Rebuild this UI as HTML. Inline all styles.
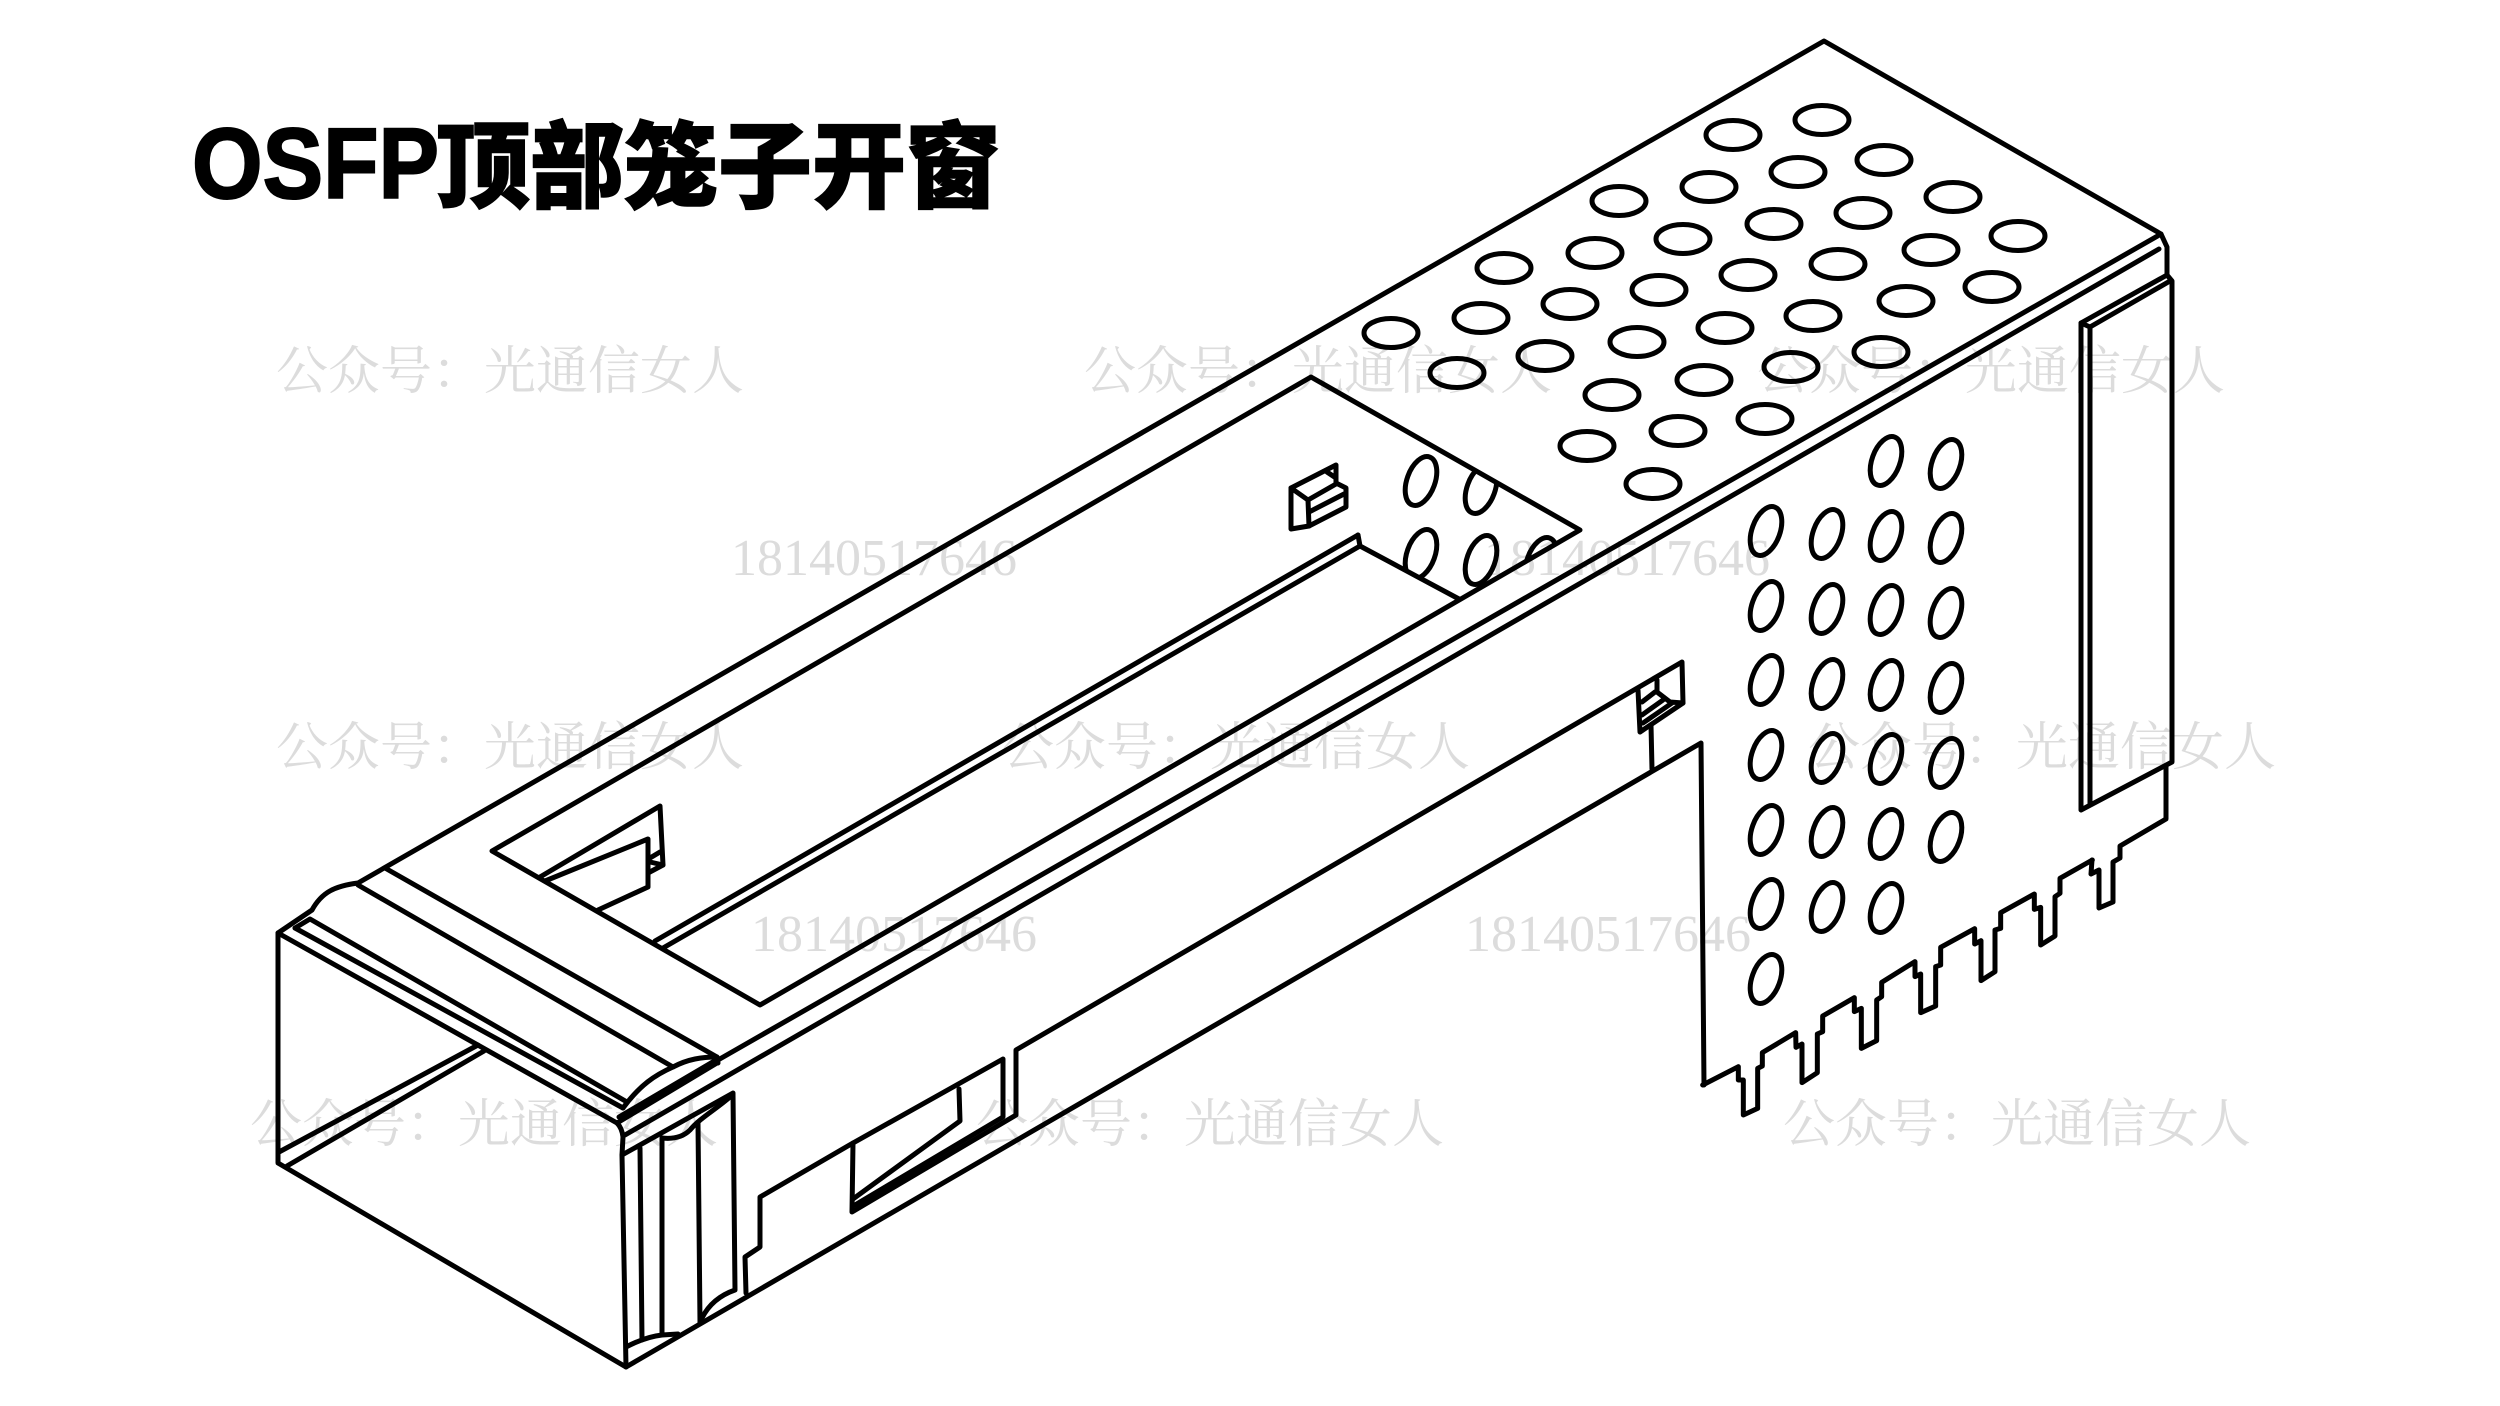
<!DOCTYPE html>
<html lang="zh">
<head>
<meta charset="utf-8">
<title>OSFP顶部笼子开窗</title>
<style>
html,body{margin:0;padding:0;background:#fff;width:2500px;height:1406px;overflow:hidden}
svg{display:block}
.wm{font-family:"Liberation Serif","Noto Serif CJK SC",serif;font-size:52px;fill:#dcdcdc}
.n{font-family:"Liberation Serif",serif;font-size:52px;fill:#dcdcdc}
.l{fill:none;stroke:#000;stroke-width:5;stroke-linejoin:round;stroke-linecap:round}
</style>
</head>
<body>
<svg width="2500" height="1406" viewBox="0 0 2500 1406" xmlns="http://www.w3.org/2000/svg">
<defs>
<clipPath id="op"><polygon points="1311,377 1580,530 1459,599 1360,545 1300,500"/></clipPath>
</defs>

<!-- watermarks -->
<text class="wm" x="276" y="389">公众号：光通信女人</text>
<text class="wm" x="1084" y="389">公众号：光通信女人</text>
<text class="wm" x="1757" y="389">公众号：光通信女人</text>
<text class="wm" x="276" y="765">公众号：光通信女人</text>
<text class="wm" x="1002" y="765">公众号：光通信女人</text>
<text class="wm" x="1808" y="765">公众号：光通信女人</text>
<text class="wm" x="250" y="1142">公众号：光通信女人</text>
<text class="wm" x="976" y="1142">公众号：光通信女人</text>
<text class="wm" x="1783" y="1142">公众号：光通信女人</text>
<text class="n" x="731" y="575">18140517646</text>
<text class="n" x="1484" y="575">18140517646</text>
<text class="n" x="751" y="951">18140517646</text>
<text class="n" x="1465" y="951">18140517646</text>

<!-- title -->
<text x="192" y="198" font-family="Liberation Sans, sans-serif" font-weight="700" font-size="100" textLength="247" lengthAdjust="spacingAndGlyphs" stroke="#000" stroke-width="2" fill="#000">OSFP</text>
<text x="436" y="200" font-family="Liberation Sans, Noto Sans CJK SC, sans-serif" font-weight="900" font-size="94" stroke="#000" stroke-width="1.5" fill="#000">顶部笼子开窗</text>

<g class="l">
<!-- front face -->
<path d="M278,933 L617,1123 Q622,1128 623,1137 L622,1155 L626,1367 L278,1163 Z"/>
<path d="M626,1367 L1701,743 L1704,1085"/>
<!-- interior seen through front -->
<path d="M279,1152 L478,1045"/>
<path d="M287,1166 L484,1051"/>
<!-- lip and top edges -->
<path d="M278,933 L312,910 C322,892 335,886 358,883 L1824,41 L2161,234 L2167,247 L2167,275"/>
<path d="M295,928 L623,1108"/>
<path d="M295,928 L310,919 L627,1102"/>
<path d="M358,885 L673,1067"/>
<path d="M385,868 L717,1057 L718,1063"/>
<path d="M623,1108 C640,1085 655,1075 673,1067 C688,1059 702,1057 717,1057"/>
<path d="M617,1123 L717,1063"/>
<path d="M619,1117 L716,1060"/>
<path d="M718,1060 L2161,234"/>
<path d="M625,1135 L2159,249"/>

<!-- front side flange -->
<path d="M622,1155 L733,1093 L735,1290 Q712,1298 702,1318"/>
<path d="M640,1148 L642,1340"/>
<path d="M662,1138 L662,1335"/>
<path d="M698,1123 L700,1323"/>
<path d="M662,1138 Q680,1140 690,1130 C700,1118 715,1110 730,1097"/>
<path d="M626,1347 Q645,1337 662,1335 L678,1334"/>

<!-- side wall lower edge with windows -->
<path d="M746,1293 L745,1257 L760,1247 L760,1197 L853,1143 L852,1212 L1016,1115 L1016,1050 L1682,662 L1683,703 L1640,732 L1638,690"/>
<path d="M853,1143 L1003,1059 L1003,1117 L855,1205"/>
<path d="M853,1199 L960,1121 L959,1089"/>
<!-- small tab on side -->
<path d="M1642,702 L1655,692"/>
<path d="M1642,715 L1663,700"/>
<path d="M1657,680 L1657,692 L1670,702 L1683,703"/>
<path d="M1643,723 L1672,703"/>
<path d="M1651,725 L1652,769"/>

<!-- top opening -->
<path d="M1311,377 L1580,530 L760,1005 L492,851 Z"/>
<path d="M1358,535 L655,941"/>
<path d="M1358,535 L1360,546 L1459,599"/>
<path d="M1360,546 L663,948"/>
<!-- rear latch in opening -->
<path d="M540,877 L660,806 L663,865 L648,873"/>
<path d="M545,881 L648,839 L648,887 L598,910"/>
<path d="M650,858 L660,852"/>
<path d="M650,862 L663,865"/>
<!-- small tab in opening -->
<path d="M1291,488 L1336,465 L1336,483 L1346,488 L1346,507 L1309,526 L1291,529 Z"/>
<path d="M1291,488 L1308,500 L1309,526"/>
<path d="M1308,500 L1336,484"/>
<path d="M1309,512 L1344,494"/>
<path d="M1327,472 L1336,478"/>

<!-- right panel -->
<path d="M2081,323 L2167,275 L2172,281 L2172,762 L2081,810 Z"/>
<path d="M2081,323 L2090,327 L2170,281"/>
<path d="M2090,327 L2090,804"/>
<path d="M2166,766 L2166,819 L2120,846 L2120,858 L2113,862 L2113,902 L2099,908 L2099,870 L2091,874 L2092,860"/>

<!-- pins -->
<g transform="translate(1680 850) scale(.33333)" stroke-width="15">
<polyline points="68,705 175,650 175,690 190,690 190,795 233,775 233,655 247,648 247,608 347,548 348,592 366,582 366,698 412,668 412,552 428,545 428,498 523,443 523,485 544,475 544,595 590,572 590,450 605,440 605,397 705,335 705,380 722,372 722,488 767,468 767,350 782,345 782,292 884,236 884,282 903,272 903,392 945,365 945,240 962,235 962,188 1063,132 1063,178 1082,172 1082,285 1125,258 1125,140 1140,130 1140,85 1237,30"/>
</g>

<!-- top holes -->
<g>
<ellipse cx="1822" cy="120" rx="27" ry="14.5"/><ellipse cx="1733" cy="135" rx="27" ry="14.5"/>
<ellipse cx="1884" cy="160" rx="27" ry="14.5"/><ellipse cx="1798" cy="172" rx="27" ry="14.5"/><ellipse cx="1709" cy="187" rx="27" ry="14.5"/><ellipse cx="1619" cy="201" rx="27" ry="14.5"/>
<ellipse cx="1953" cy="197" rx="27" ry="14.5"/><ellipse cx="1863" cy="213" rx="27" ry="14.5"/><ellipse cx="1774" cy="224" rx="27" ry="14.5"/><ellipse cx="1683" cy="239" rx="27" ry="14.5"/><ellipse cx="1595" cy="253" rx="27" ry="14.5"/><ellipse cx="1504" cy="268" rx="27" ry="14.5"/>
<ellipse cx="2018" cy="236" rx="27" ry="14.5"/><ellipse cx="1931" cy="250" rx="27" ry="14.5"/><ellipse cx="1838" cy="264" rx="27" ry="14.5"/><ellipse cx="1748" cy="275" rx="27" ry="14.5"/><ellipse cx="1659" cy="290" rx="27" ry="14.5"/><ellipse cx="1570" cy="304" rx="27" ry="14.5"/><ellipse cx="1481" cy="318" rx="27" ry="14.5"/><ellipse cx="1391" cy="333" rx="27" ry="14.5"/>
<ellipse cx="1992" cy="287" rx="27" ry="14.5"/><ellipse cx="1906" cy="301" rx="27" ry="14.5"/><ellipse cx="1813" cy="316" rx="27" ry="14.5"/><ellipse cx="1725" cy="328" rx="27" ry="14.5"/><ellipse cx="1637" cy="342" rx="27" ry="14.5"/><ellipse cx="1545" cy="356" rx="27" ry="14.5"/><ellipse cx="1457" cy="373" rx="27" ry="14.5"/>
<ellipse cx="1881" cy="352" rx="27" ry="14.5"/><ellipse cx="1791" cy="367" rx="27" ry="14.5"/><ellipse cx="1704" cy="380" rx="27" ry="14.5"/><ellipse cx="1612" cy="395" rx="27" ry="14.5"/>
<ellipse cx="1765" cy="419" rx="27" ry="14.5"/><ellipse cx="1678" cy="431" rx="27" ry="14.5"/><ellipse cx="1587" cy="446" rx="27" ry="14.5"/>
<ellipse cx="1653" cy="484" rx="27" ry="14.5"/>
</g>

<!-- holes seen through opening -->
<g clip-path="url(#op)">
<ellipse rx="14" ry="25.5" transform="translate(1421 481) rotate(20)"/>
<ellipse rx="14" ry="25.5" transform="translate(1481 489) rotate(20)"/>
<ellipse rx="14" ry="25.5" transform="translate(1421 554) rotate(20)"/>
<ellipse rx="14" ry="25.5" transform="translate(1481 560) rotate(20)"/>
<ellipse rx="14" ry="25.5" transform="translate(1541 562) rotate(20)"/>
</g>

<!-- side holes -->
<g>
<ellipse rx="14" ry="25.5" transform="translate(1766 531) rotate(20)"/><ellipse rx="14" ry="25.5" transform="translate(1766 606) rotate(20)"/><ellipse rx="14" ry="25.5" transform="translate(1766 680) rotate(20)"/><ellipse rx="14" ry="25.5" transform="translate(1766 755) rotate(20)"/><ellipse rx="14" ry="25.5" transform="translate(1766 830) rotate(20)"/><ellipse rx="14" ry="25.5" transform="translate(1766 904) rotate(20)"/><ellipse rx="14" ry="25.5" transform="translate(1766 979) rotate(20)"/>
<ellipse rx="14" ry="25.5" transform="translate(1827 534) rotate(20)"/><ellipse rx="14" ry="25.5" transform="translate(1827 609) rotate(20)"/><ellipse rx="14" ry="25.5" transform="translate(1827 684) rotate(20)"/><ellipse rx="14" ry="25.5" transform="translate(1827 758) rotate(20)"/><ellipse rx="14" ry="25.5" transform="translate(1827 832) rotate(20)"/><ellipse rx="14" ry="25.5" transform="translate(1827 907) rotate(20)"/>
<ellipse rx="14" ry="25.5" transform="translate(1886 461) rotate(20)"/><ellipse rx="14" ry="25.5" transform="translate(1886 536) rotate(20)"/><ellipse rx="14" ry="25.5" transform="translate(1886 610) rotate(20)"/><ellipse rx="14" ry="25.5" transform="translate(1886 685) rotate(20)"/><ellipse rx="14" ry="25.5" transform="translate(1886 759) rotate(20)"/><ellipse rx="14" ry="25.5" transform="translate(1886 834) rotate(20)"/><ellipse rx="14" ry="25.5" transform="translate(1886 908) rotate(20)"/>
<ellipse rx="14" ry="25.5" transform="translate(1946 464) rotate(20)"/><ellipse rx="14" ry="25.5" transform="translate(1946 538) rotate(20)"/><ellipse rx="14" ry="25.5" transform="translate(1946 613) rotate(20)"/><ellipse rx="14" ry="25.5" transform="translate(1946 688) rotate(20)"/><ellipse rx="14" ry="25.5" transform="translate(1946 763) rotate(20)"/><ellipse rx="14" ry="25.5" transform="translate(1946 837) rotate(20)"/>
</g>
</g>
</svg>
</body>
</html>
